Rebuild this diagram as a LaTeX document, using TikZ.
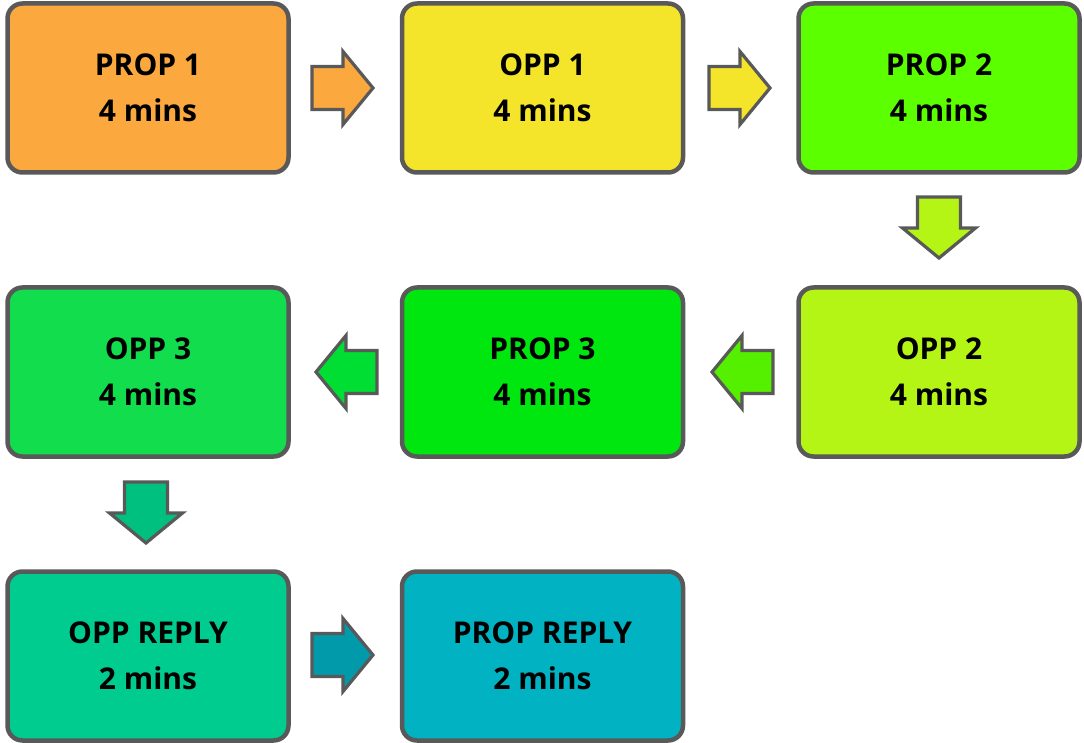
\documentclass[tikz,border=0pt]{standalone}
\usepackage{fontspec}
\setmainfont{Open Sans}
\definecolor{cProA}{HTML}{FBA83F}
\definecolor{cOppA}{HTML}{F4E52A}
\definecolor{cProB}{HTML}{5CFF00}
\definecolor{cOppB}{HTML}{B4F516}
\definecolor{cProC}{HTML}{00E70F}
\definecolor{cOppC}{HTML}{11DD4D}
\definecolor{cOppR}{HTML}{00CC90}
\definecolor{cProR}{HTML}{00B2C2}
\definecolor{aA}{HTML}{FBA83F}
\definecolor{aB}{HTML}{F4E52A}
\definecolor{aC}{HTML}{B4F516}
\definecolor{aD}{HTML}{55EF00}
\definecolor{aE}{HTML}{00DD33}
\definecolor{aF}{HTML}{00C080}
\definecolor{aG}{HTML}{009AAA}
\definecolor{edge}{HTML}{595959}
\tikzset{
  stagebox/.style={draw=edge, line width=4.5pt, rounded corners=15pt,
    minimum width=281pt, minimum height=169pt, inner sep=0pt,
    align=center, font=\fontsize{30}{46}\selectfont\bfseries},
  blockarrow/.pic={
    \path[pic actions] (0,-21.5) -- (31,-21.5) -- (31,-36.5) -- (61,0) -- (31,36.5) -- (31,21.5) -- (0,21.5) -- cycle;
  },
  arrowstyle/.style={draw=edge, line width=3.2pt, line join=miter},
}
\begin{document}
\begin{tikzpicture}[x=1pt,y=-1pt]
\useasboundingbox (0,0) rectangle (1084,743);
\node[stagebox, fill=cProA] (p1) at (148,88) {PROP 1\\4 mins};
\node[stagebox, fill=cOppA] (o1) at (542.5,88) {OPP 1\\4 mins};
\node[stagebox, fill=cProB] (p2) at (939,88) {PROP 2\\4 mins};
\node[stagebox, fill=cOppC] (o3) at (148,372) {OPP 3\\4 mins};
\node[stagebox, fill=cProC] (p3) at (542.5,372) {PROP 3\\4 mins};
\node[stagebox, fill=cOppB] (o2) at (939,372) {OPP 2\\4 mins};
\node[stagebox, fill=cOppR] (or) at (148,656) {OPP REPLY\\2 mins};
\node[stagebox, fill=cProR] (pr) at (542.5,656) {PROP REPLY\\2 mins};
% block arrows
\pic[arrowstyle, fill=aA] at (312,88) {blockarrow};
\pic[arrowstyle, fill=aB] at (709,88) {blockarrow};
\pic[arrowstyle, fill=aC, rotate=-90] at (939,197) {blockarrow};
\pic[arrowstyle, fill=aD, rotate=180] at (773,372) {blockarrow};
\pic[arrowstyle, fill=aE, rotate=180] at (377,372) {blockarrow};
\pic[arrowstyle, fill=aF, rotate=-90] at (146,482) {blockarrow};
\pic[arrowstyle, fill=aG] at (312,655) {blockarrow};
\end{tikzpicture}
\end{document}
